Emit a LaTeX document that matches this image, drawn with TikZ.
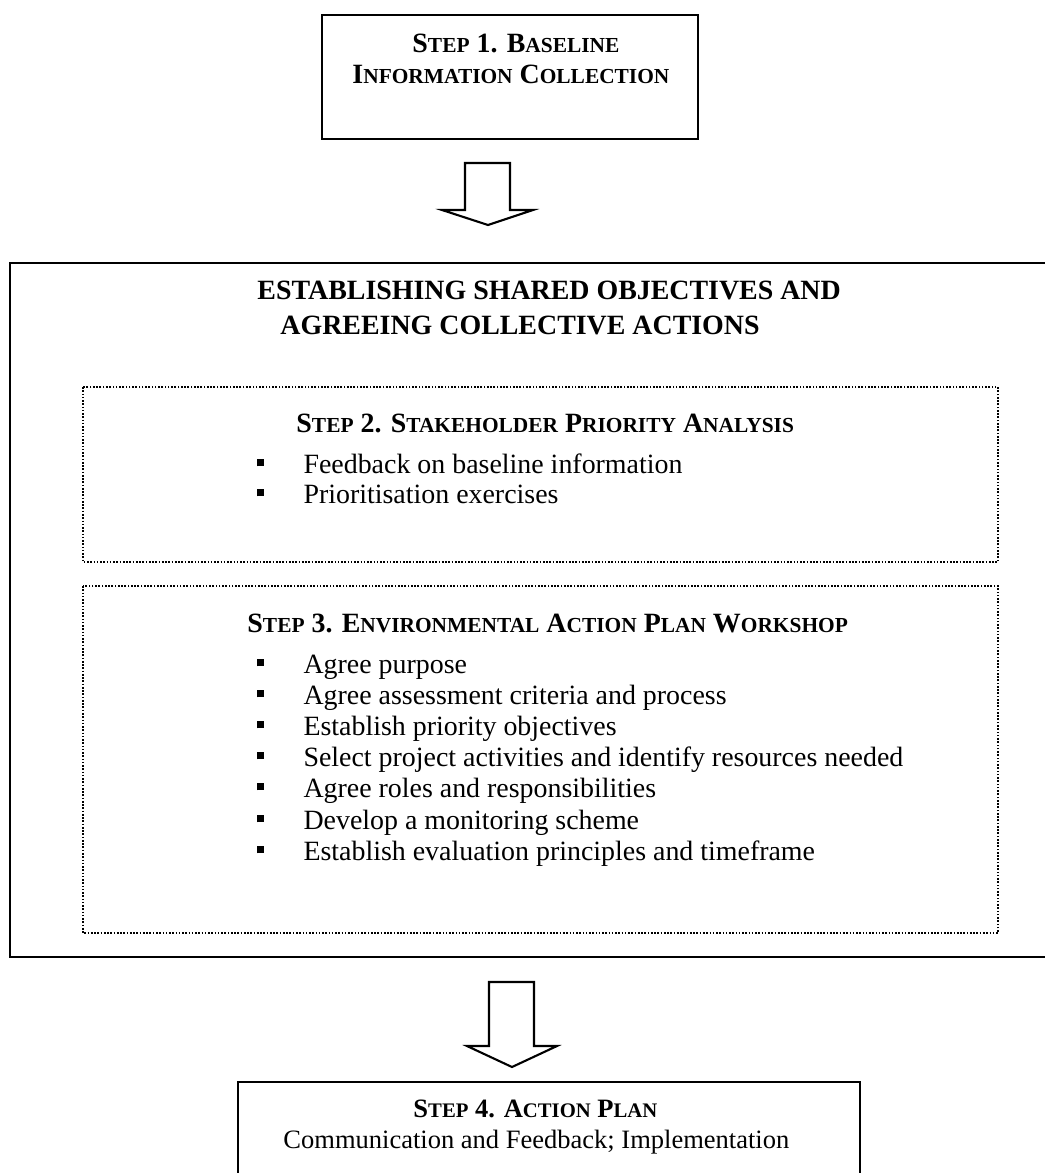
\documentclass[tikz,border=0pt]{standalone}
\usepackage{fontspec}
\setmainfont{Liberation Serif}
\usepackage{tikz}
\usetikzlibrary{positioning}
\newcommand{\sclow}[1]{{\fontsize{9.2}{11}\selectfont #1}}
\newcommand{\sclowb}[1]{{\fontsize{8.9}{11}\selectfont #1}}
\newcommand{\sqbullet}{\makebox[19.8pt][l]{\rule[2.9pt]{3pt}{3pt}}}

\begin{document}
\begin{tikzpicture}[x=0.43pt, y=-0.43pt,
  solidbox/.style={draw, line width=0.9pt},
  dotbox/.style={draw, line width=0.7pt, dash pattern=on 0.7pt off 0.7pt},
  steptitle/.style={anchor=base west, inner sep=0pt, font=\fontsize{12}{14}\selectfont\bfseries},
  itemtext/.style={anchor=base west, inner sep=0pt, font=\fontsize{12}{14}\selectfont},
  blockarrow/.style={draw, line width=0.9pt, line join=miter}]
\useasboundingbox (0,0) rectangle (1045,1173);
\clip (0,0) rectangle (1045,1173);

% Step 1
\draw[solidbox] (322,15) rectangle (698,139);
\node[steptitle] (step1a) at (412,52) {S\sclow{TEP} 1. B\sclow{ASELINE}};
\node[steptitle] (step1b) at (352,83) {I\sclow{NFORMATION} C\sclow{OLLECTION}};

\draw[blockarrow] (465,163) -- (510,163) -- (510,210) -- (533,210) -- (488,225)
  -- (442,210) -- (465,210) -- cycle;

% Shared objectives frame
\draw[solidbox] (10,263) rectangle (1070,957);
\node[steptitle] (head1) at (257,299) {ESTABLISHING SHARED OBJECTIVES AND};
\node[steptitle] (head2) at (280,334) {AGREEING COLLECTIVE ACTIONS};

% Step 2
\draw[dotbox] (83,387) rectangle (998,562);
\node[steptitle] (step2) at (296,432) {S\sclow{TEP} 2. S\sclow{TAKEHOLDER} P\sclow{RIORITY} A\sclow{NALYSIS}};
\node[itemtext] (s2i1) at (257,473) {\sqbullet Feedback on baseline information};
\node[itemtext] (s2i2) at (257,503) {\sqbullet Prioritisation exercises};

% Step 3
\draw[dotbox] (83,586) rectangle (998,933);
\node[steptitle] (step3) at (247,632) {S\sclow{TEP} 3. E\sclow{NVIRONMENTAL} A\sclow{CTION} P\sclow{LAN} W\sclow{ORKSHOP}};
\node[itemtext] (s3i1) at (257,673) {\sqbullet Agree purpose};
\node[itemtext] (s3i2) at (257,704) {\sqbullet Agree assessment criteria and process};
\node[itemtext] (s3i3) at (257,735) {\sqbullet Establish priority objectives};
\node[itemtext] (s3i4) at (257,766) {\sqbullet Select project activities and identify resources needed};
\node[itemtext] (s3i5) at (257,797) {\sqbullet Agree roles and responsibilities};
\node[itemtext] (s3i6) at (257,829) {\sqbullet Develop a monitoring scheme};
\node[itemtext] (s3i7) at (257,860) {\sqbullet Establish evaluation principles and timeframe};

\draw[blockarrow] (489,982) -- (534,982) -- (534,1046) -- (557,1046) -- (512,1067)
  -- (467,1046) -- (489,1046) -- cycle;

% Step 4
\draw[solidbox] (238,1082) rectangle (860,1200);
\node[steptitle, font=\fontsize{11.4}{13}\selectfont\bfseries] (step4a) at (413,1117) {S\sclowb{TEP} 4. A\sclowb{CTION} P\sclowb{LAN}};
\node[itemtext, font=\fontsize{11.4}{13}\selectfont] (step4b) at (283,1148) {Communication and Feedback; Implementation};
\end{tikzpicture}
\end{document}
